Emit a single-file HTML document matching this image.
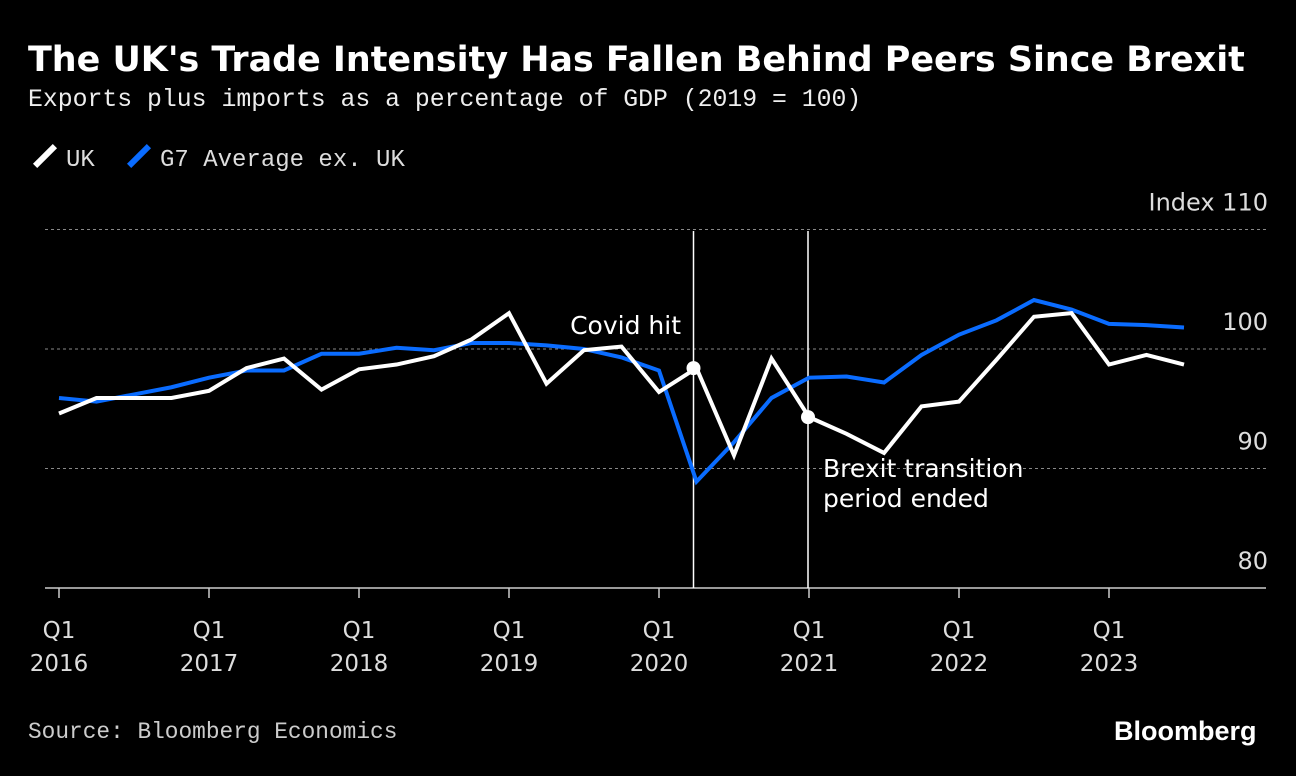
<!DOCTYPE html>
<html><head><meta charset="utf-8"><style>
body{margin:0;background:#000;width:1296px;height:776px;overflow:hidden;position:relative;font-family:"DejaVu Sans",sans-serif;color:#fff}
.t{position:absolute;white-space:nowrap}
</style></head><body>
<div class="t" style="left:28px;top:40px;font-size:34.9px;font-weight:bold;font-family:'DejaVu Sans',sans-serif">The UK's Trade Intensity Has Fallen Behind Peers Since Brexit</div>
<div class="t" style="left:28px;top:86px;font-size:24.8px;font-family:'Liberation Mono',monospace;color:#eee">Exports plus imports as a percentage of GDP (2019 = 100)</div>
<div class="t" style="left:34px;top:142px;font-size:24px;font-family:'Liberation Mono',monospace;color:#ddd"><span style="display:inline-block;width:6px;height:28px;background:#fff;transform:rotate(45deg);vertical-align:-4px;margin:0 18px 0 8px"></span>UK</div>
<div class="t" style="left:128px;top:142px;font-size:24px;font-family:'Liberation Mono',monospace;color:#ddd"><span style="display:inline-block;width:6px;height:28px;background:#0a6cff;transform:rotate(45deg);vertical-align:-4px;margin:0 18px 0 8px"></span>G7 Average ex. UK</div>
<div class="t" style="left:28px;top:719px;font-size:22.8px;font-family:'Liberation Mono',monospace;color:#ccc">Source: Bloomberg Economics</div>
<div class="t" style="left:1114px;top:716px;font-size:27px;font-weight:bold;font-family:'Liberation Sans',sans-serif">Bloomberg</div>
<svg id="c" width="1296" height="776" style="position:absolute;left:0;top:0"></svg>
<script>
const uk=[94.6,95.9,95.9,95.9,96.5,98.4,99.2,96.6,98.3,98.7,99.4,100.8,103.0,97.1,99.9,100.2,96.4,98.4,91.1,99.2,94.3,92.9,91.3,95.2,95.6,99.1,102.7,103.0,98.7,99.5,98.7];
const g7=[95.9,95.6,96.2,96.8,97.6,98.2,98.2,99.6,99.6,100.1,99.9,100.5,100.5,100.3,100.0,99.3,98.2,88.9,92.2,95.9,97.6,97.7,97.2,99.5,101.2,102.4,104.1,103.3,102.1,102.0,101.8];
const years=["2016","2017","2018","2019","2020","2021","2022","2023"];
const yTicks=[80,90,100,110];
const events=[{q:17,label:["Covid hit"]},{q:20,label:["Brexit transition","period ended"]}];
const NS="http://www.w3.org/2000/svg",svg=document.getElementById('c');
const FF='DejaVu Sans, sans-serif';
const x=q=>59+q*37.5, y=v=>588-(v-80)*11.95;
function el(tag,a){const e=document.createElementNS(NS,tag);for(const k in a)e.setAttribute(k,a[k]);svg.appendChild(e);return e;}
yTicks.forEach(v=>{
 if(v>80){const g=el('line',{x1:45,x2:1266,y1:y(v),y2:y(v),stroke:'#888','stroke-dasharray':'3,3','stroke-width':1});
 
 }
 const t=el('text',{x:1268,y:y(v)-19,'text-anchor':'end','font-size':24,fill:'#ddd','font-family':FF,'xml:space':'preserve'});
 t.textContent=(v==110?'Index  ':'')+v;
 
 
});
const base=el('line',{x1:45,x2:1266,y1:588,y2:588,stroke:'#ccc','stroke-width':1.5});


years.forEach((yr,i)=>{
 const xx=x(i*4);
 const tk=el('line',{x1:xx,x2:xx,y1:588,y2:598,stroke:'#ccc','stroke-width':1.5});
 
 
 const t=el('text',{x:xx,y:638,'text-anchor':'middle','font-size':23,fill:'#ddd','font-family':FF});
 
 
 t.innerHTML='<tspan x="'+xx+'">Q1</tspan><tspan x="'+xx+'" dy="33">'+yr+'</tspan>';
});
events.forEach((ev,i)=>{
 const xx=x(ev.q)-(i==0?3:1);
 const l=el('line',{x1:xx,x2:xx,y1:231,y2:588,stroke:'#fff','stroke-width':1.5});
 
 
});
function line(d,c,n){const p=el('polyline',{points:d.map((v,i)=>x(i)+','+y(v)).join(' '),fill:'none',stroke:c,'stroke-width':4,'stroke-linejoin':'miter'});
 
 }
line(g7,'#0a6cff','g7-line');
line(uk,'#fff','uk-line');
events.forEach((ev,i)=>{
 const d=el('circle',{cx:x(ev.q)-(i==0?3:1),cy:y(uk[ev.q]),r:7,fill:'#fff'});
 
 
});
const a1=el('text',{x:681,y:334,'text-anchor':'end','font-size':25,fill:'#fff','font-family':FF});
a1.textContent='Covid hit';


const a2=el('text',{x:823,y:477,'font-size':25,fill:'#fff','font-family':FF});
a2.innerHTML='<tspan x="823">Brexit transition</tspan><tspan x="823" dy="30">period ended</tspan>';


</script>
</body></html>
